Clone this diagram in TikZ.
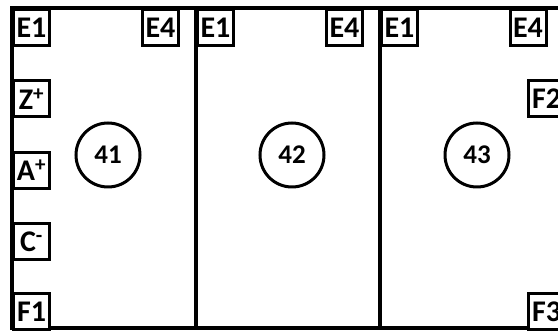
\documentclass[tikz,border=0pt]{standalone}
\usepackage{fontspec}
\setmainfont{Carlito}
\begin{document}
\begin{tikzpicture}[x=1pt,y=-1pt,
  frame/.style={line width=3.3pt},
  tag/.style={draw,line width=3pt,minimum width=36pt,minimum height=36pt,inner sep=0pt,anchor=north west,fill=white,
    font=\fontsize{30}{31}\selectfont\bfseries},
  num/.style={draw,circle,line width=3pt,minimum size=64pt,inner sep=0pt,
    font=\fontsize{27}{28}\selectfont\bfseries}]
\useasboundingbox (0,0) rectangle (558,331);
\clip (0,0) rectangle (558,331);
% frame
\draw[frame] (12,8) rectangle (564,328);
\draw[frame] (196,8) -- (196,328);
\draw[frame] (380,8) -- (380,328);
% panel 1
\node[tag] (p1e1) at (12,8) {E1};
\node[tag] (p1e4) at (141,8) {E4};
\node[tag] (p1z) at (12,79.5) {Z\textsuperscript{+}};
\node[tag] (p1a) at (12,151) {A\textsuperscript{+}};
\node[tag] (p1c) at (12,222) {C\textsuperscript{-}};
\node[tag] (p1f) at (12,292) {F1};
\node[num] (c41) at (108,155) {41};
% panel 2
\node[tag] (p2e1) at (196,8) {E1};
\node[tag] (p2e4) at (325,8) {E4};
\node[num] (c42) at (292,155) {42};
% panel 3
\node[tag] (p3e1) at (380,8) {E1};
\node[tag] (p3e4) at (508.5,8) {E4};
\node[tag] (p3f2) at (527,79.5) {F2};
\node[tag] (p3f3) at (527,292) {F3};
\node[num] (c43) at (477,155) {43};
\end{tikzpicture}
\end{document}
